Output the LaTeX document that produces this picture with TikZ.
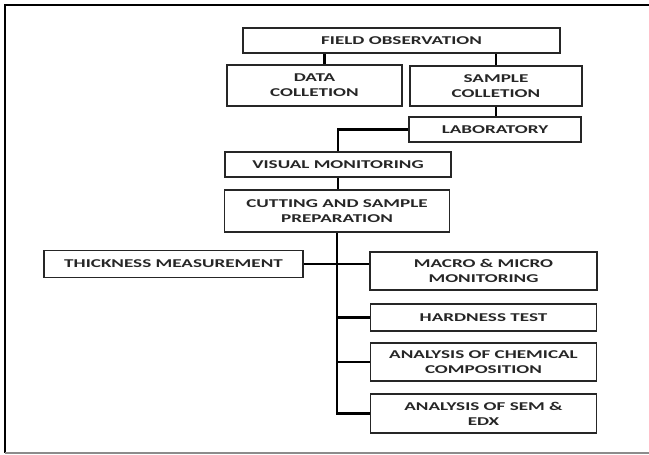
\documentclass[tikz,border=0pt]{standalone}
\usepackage{fontspec}
\newfontfamily\boitefont[FakeStretch=1.6]{Carlito}
\tikzset{
  boite/.style={draw=black!85, line width=1.6bp, fill=white, inner sep=0pt,
    align=center, text=black!85,
    font=\boitefont\bfseries\fontsize{12}{15}\selectfont},
  lien/.style={line width=2.4bp, black}
}
\begin{document}
\begin{tikzpicture}[x=1bp, y=-1bp]
            \useasboundingbox (0,0) rectangle (649,455);
            % Le cadre
            \draw[line width=2.4bp] (649,5) -- (5,5) -- (5,453);
            \draw[black!45, line width=1.6bp] (5,453) -- (649,453);

            % Le terrain (haut)
            \node[boite, line width=2.8bp, minimum width=317bp, minimum height=25bp] (FO) at (401.5,40.5) {FIELD OBSERVATION};
            \node[boite, minimum width=175bp, minimum height=41bp] (DC) at (314.5,85.5) {DATA\\COLLETION};
            \node[boite, minimum width=172bp, minimum height=40bp] (SC) at (496,86) {SAMPLE\\COLLETION};
            \node[boite, minimum width=172bp, minimum height=25bp] (LAB) at (495,129.5) {LABORATORY};

            % Le laboratoire (milieu)
            \node[boite, minimum width=226bp, minimum height=25bp] (VM) at (338,164.5) {VISUAL MONITORING};
            \node[boite, minimum width=225bp, minimum height=42bp] (CSP) at (337,211) {CUTTING AND SAMPLE\\PREPARATION};

            % Les essais (bas)
            \node[boite, minimum width=259bp, minimum height=27bp] (TM) at (173.5,264) {THICKNESS MEASUREMENT};
            \node[boite, minimum width=227bp, minimum height=38bp] (MM) at (483.5,271) {MACRO \& MICRO\\MONITORING};
            \node[boite, minimum width=226bp, minimum height=27bp] (HT) at (483.5,317.5) {HARDNESS TEST};
            \node[boite, minimum width=226bp, minimum height=38bp] (ACC) at (483.5,362) {ANALYSIS OF CHEMICAL\\COMPOSITION};
            \node[boite, minimum width=226bp, minimum height=39bp] (SEM) at (483.5,413.5) {ANALYSIS OF SEM \&\\EDX};

            % Les liaisons
            \draw[lien] ([xshift=10bp]DC.north) -- ([xshift=10bp]DC.north |- FO.south);
            \draw[lien] (SC.north) -- (SC.north |- FO.south);
            \draw[lien] (SC.south) -- (SC.south |- LAB.north);
            \draw[lien] (LAB.west) -| (VM.north);
            \draw[lien] (VM.south) -- (VM.south |- CSP.north);

            % Le tronc vertical (forme de peigne)
            \coordinate (T) at (CSP.south);
            \draw[lien] (T) |- (SEM.west);
            \draw[lien] (TM.east) -- (TM.east -| MM.west); % Barre horizontale
            \draw[lien] (T |- HT.west) -- (HT.west);
            \draw[lien] (T |- ACC.west) -- (ACC.west);
\end{tikzpicture}
\end{document}
